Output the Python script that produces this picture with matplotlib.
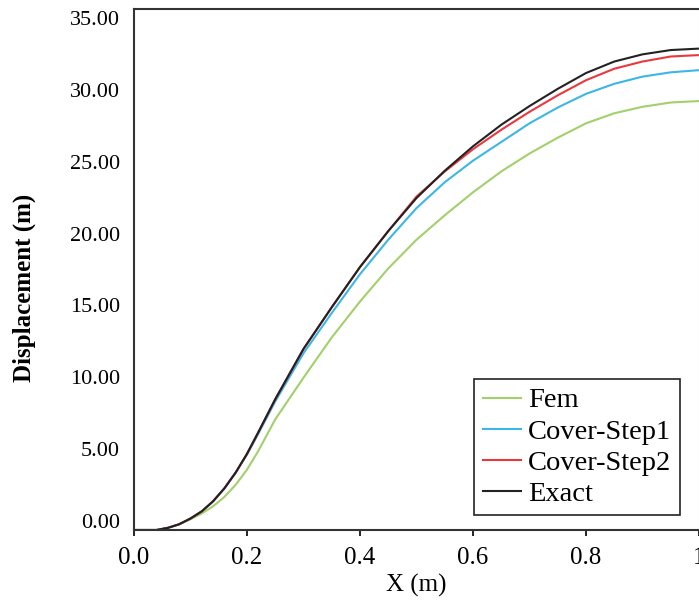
import matplotlib
matplotlib.use("Agg")
import matplotlib.pyplot as plt
import matplotlib.transforms as mtransforms

plt.rcParams["font.family"] = ["Liberation Serif", "DejaVu Serif"]

x = [0.0, 0.02, 0.04, 0.06, 0.08, 0.10, 0.12, 0.14, 0.16, 0.18, 0.20, 0.22, 0.25,
     0.30, 0.35, 0.40, 0.45, 0.50, 0.55, 0.60, 0.65, 0.70, 0.75, 0.80, 0.85,
     0.90, 0.95, 1.00]

exact = [0.0, 0.0, 0.0, 0.15, 0.4, 0.8, 1.3, 2.0, 2.9, 4.0, 5.3, 6.8, 9.1,
         12.6, 15.5, 18.3, 20.8, 23.1, 25.0, 26.7, 28.2, 29.5, 30.7, 31.8, 32.6,
         33.1, 33.4, 33.5]
step2 = [0.0, 0.0, 0.0, 0.15, 0.4, 0.8, 1.3, 2.0, 2.9, 4.0, 5.3, 6.8, 9.1,
         12.6, 15.5, 18.3, 20.8, 23.2, 24.95, 26.5, 27.85, 29.1, 30.25, 31.3, 32.1,
         32.6, 32.95, 33.05]
step1 = [0.0, 0.0, 0.0, 0.15, 0.4, 0.8, 1.3, 2.0, 2.9, 4.0, 5.25, 6.7, 8.95,
         12.3, 15.1, 17.8, 20.2, 22.4, 24.2, 25.7, 27.0, 28.3, 29.4, 30.35, 31.05,
         31.55, 31.85, 32.0]
fem = [0.0, 0.0, 0.0, 0.15, 0.4, 0.75, 1.15, 1.65, 2.3, 3.15, 4.2, 5.5, 7.7,
       10.6, 13.4, 15.9, 18.2, 20.2, 21.9, 23.5, 24.95, 26.2, 27.3, 28.3, 29.0,
       29.45, 29.75, 29.85]

labels = ["Fem", "Cover-Step1", "Cover-Step2", "Exact"]
colors = ["#a2d06a", "#3db6e6", "#e8393f", "#222222"]

fig = plt.figure(figsize=(6.99, 6.01), dpi=100)
ax = fig.add_axes([134 / 699, 71 / 601, 1 - 134 / 699, 521 / 601])

for ys, lab, c in zip([fem, step1, step2, exact], labels, colors):
    ax.plot(x, ys, color=c, lw=1.5, label=lab)

ax.set_xlim(0, 1)
ax.set_ylim(0, 521 / 14.37)

ax.set_xticks([0, 0.2, 0.4, 0.6, 0.8, 1.0])
ax.set_xticklabels(["0.0", "0.2", "0.4", "0.6", "0.8", "1"], fontsize=18)
ax.set_yticks([0, 5, 10, 15, 20, 25, 30, 35])
ax.set_yticklabels(["0.00", "5.00", "10.00", "15.00", "20.00", "25.00", "30.00", "35.00"],
                   fontsize=16)
ax.tick_params(axis="x", direction="out", length=4, width=1.2, pad=8)
ax.tick_params(axis="y", length=0, pad=10)

# tick labels sit a little above their values in the original
shift = mtransforms.ScaledTranslation(0, 9 / 100, fig.dpi_scale_trans)
for t in ax.get_yticklabels():
    t.set_transform(t.get_transform() + shift)

for s in ["left", "bottom", "top"]:
    ax.spines[s].set_linewidth(1.5)
    ax.spines[s].set_color("#333333")
ax.spines["right"].set_color("#dddddd")

ax.set_xlabel("X (m)", fontsize=18, labelpad=4)
ax.set_ylabel("Displacement (m)", fontsize=18, fontweight="bold")
ax.yaxis.set_label_coords(-0.173, 0.465)

leg = ax.legend(loc="upper left", bbox_to_anchor=(474 / 699, 1 - 379 / 601),
                bbox_transform=fig.transFigure, borderaxespad=0, fontsize=20.5,
                fancybox=False, framealpha=1, edgecolor="#222222",
                handlelength=1.35, handletextpad=0.25, labelspacing=0.18,
                borderpad=0.3)
leg.get_frame().set_linewidth(1.2)

fig.savefig("out.png", dpi=100)
